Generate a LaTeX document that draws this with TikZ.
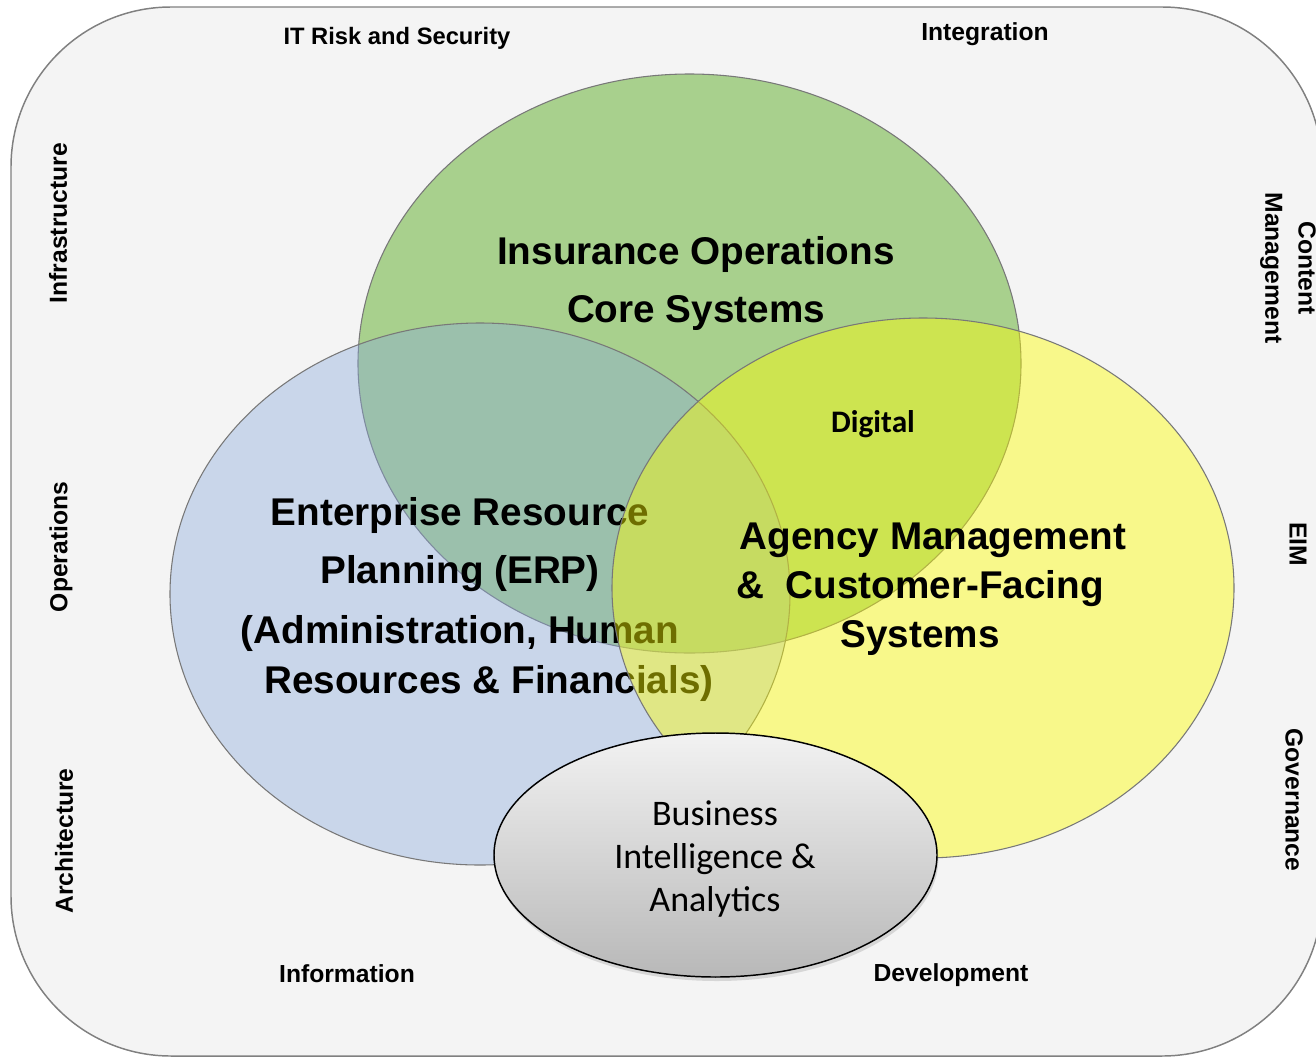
\documentclass[tikz,border=0pt]{standalone}
\usepackage{fontspec}
\setmainfont{Liberation Sans}
\newfontfamily\califont{Carlito}
\usetikzlibrary{shadows}
\definecolor{frameF}{RGB}{244,244,244}
\definecolor{frameD}{RGB}{128,128,128}
\definecolor{blueF}{RGB}{137,169,219}
\definecolor{greenF}{RGB}{168,208,141}
\definecolor{yellowF}{RGB}{255,255,0}
\definecolor{edgeD}{RGB}{120,120,120}
\definecolor{biTop}{RGB}{242,242,242}
\definecolor{biBot}{RGB}{184,184,184}
\tikzset{
  bigtxt/.style={font=\fontsize{29}{36}\selectfont\bfseries, inner sep=0pt},
  lbl/.style={font=\fontsize{18.5}{25}\selectfont\bfseries, inner sep=0pt, align=center},
  vennedge/.style={draw=edgeD, line width=0.8pt},
}
\begin{document}
\begin{tikzpicture}[x=0.75pt,y=-0.75pt]
\useasboundingbox (0,0) rectangle (1316,1057);
\begin{scope}
\clip (0,0) rectangle (1316,1057);
\draw[fill=frameF, draw=frameD, line width=1.1pt, rounded corners=120pt] (11,7) rectangle (1322,1056);
\end{scope}
% Venn circles
\path[vennedge, fill=greenF] (689.5,363.5) ellipse [x radius=331.5, y radius=289.5];
\path[vennedge, fill=blueF, fill opacity=0.4] (480,594) ellipse [x radius=310, y radius=271];
% ERP text (under the yellow circle)
\node[bigtxt] (erp1) at (460,515) {Enterprise Resource};
\node[bigtxt] (erp2) at (460,574) {Planning (ERP)};
\node[bigtxt] (erp3) at (460,633) {(Administration, Human};
\node[bigtxt] (erp4) at (489,683) {Resources \& Financials)};
\path[vennedge, fill=yellowF, fill opacity=0.43] (923,588) ellipse [x radius=311, y radius=270];
% Texts on top
\node[bigtxt] (ins1) at (696,254) {Insurance Operations};
\node[bigtxt] (ins2) at (696,313) {Core Systems};
\node[bigtxt] (agm1) at (933,540) {Agency Management};
\node[bigtxt] (agm2) at (920,589) {\&\ \ Customer-Facing};
\node[bigtxt] (agm3) at (920,638) {Systems};
\node[font=\califont\fontsize{23.5}{28}\selectfont\bfseries, inner sep=0pt] (dig) at (873,424) {Digital};
% BI ellipse
\path[draw=black, line width=1.1pt, top color=biTop, bottom color=biBot,
      drop shadow={shadow xshift=1pt, shadow yshift=-3pt, opacity=0.25}]
      (715.5,855) ellipse [x radius=221.5, y radius=122];
\node[font=\califont\fontsize{27}{32.25}\selectfont, align=center, inner sep=0pt] (bi) at (715,859) {Business\\Intelligence \&\\Analytics};
% Surrounding labels
\node[lbl, font=\fontsize{17.8}{25}\selectfont\bfseries] (itr) at (397,38) {IT Risk and Security};
\node[lbl] (intg) at (985,34) {Integration};
\node[lbl] (info) at (347,974) {Information};
\node[lbl] (dev) at (951,975) {Development};
\node[lbl, rotate=90] (infra) at (58,223) {Infrastructure};
\node[lbl, rotate=90] (ops) at (61,547) {Operations};
\node[lbl, rotate=90] (arch) at (64,841) {Architecture};
\node[lbl, rotate=-90, font=\fontsize{18.5}{25}\selectfont\bfseries] (cm) at (1288,268) {Content\\Management};
\node[lbl, rotate=-90] (eim) at (1298,544) {EIM};
\node[lbl, rotate=-90] (gov) at (1294,800) {Governance};
\end{tikzpicture}
\end{document}
